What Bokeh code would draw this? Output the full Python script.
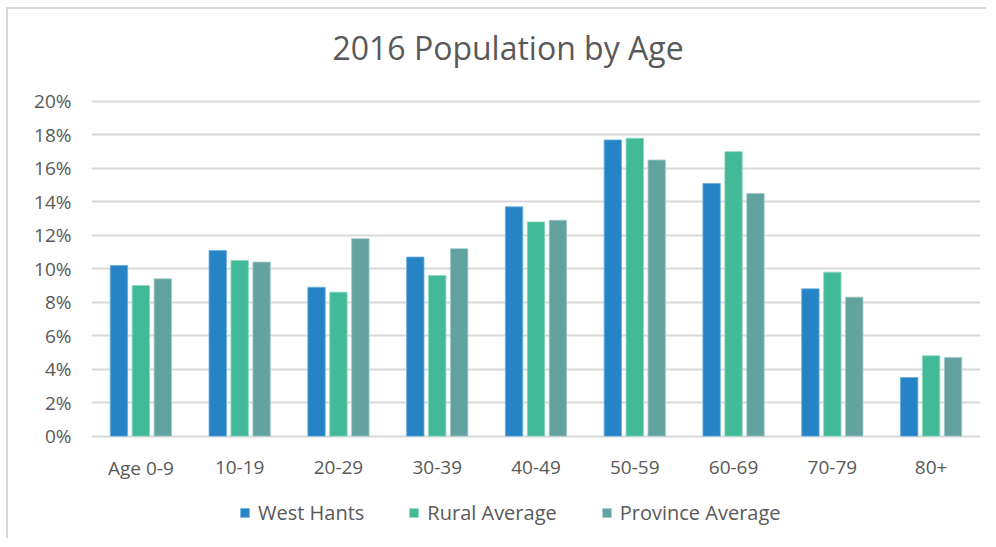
from bokeh.plotting import figure
from bokeh.models import ColumnDataSource, FactorRange, Range1d, FixedTicker, PrintfTickFormatter, Legend, LegendItem
from bokeh.transform import dodge
from bokeh.core.properties import value
from bokeh.embed import file_html
from bokeh.resources import INLINE

title_text = "2016 Population by Age"
categories = ["Age 0-9", "10-19", "20-29", "30-39", "40-49", "50-59", "60-69", "70-79", "80+"]
west_hants = [10.2, 11.1, 8.9, 10.7, 13.7, 17.7, 15.1, 8.8, 3.5]
rural_avg = [9.0, 10.5, 8.6, 9.6, 12.8, 17.8, 17.0, 9.8, 4.8]
province_avg = [9.4, 10.4, 11.8, 11.2, 12.9, 16.5, 14.5, 8.3, 4.7]
y_ticks = [0, 2, 4, 6, 8, 10, 12, 14, 16, 18, 20]

FONT = "Open Sans"
TXT = "#595959"
GRID = "#D9D9D9"

source = ColumnDataSource(dict(cat=categories, west=west_hants, rural=rural_avg, prov=province_avg))

p = figure(x_range=FactorRange(*categories), y_range=Range1d(-5.76, 24.30),
           width=980, height=531, output_backend="svg", toolbar_location=None,
           min_border_left=83, min_border_right=8, min_border_top=20, min_border_bottom=8)
p.styles = {"margin-left": "8px", "margin-top": "9px", "box-shadow": "-2px -2px 0 0 #D9D9D9"}

bw = 0.176
r1 = p.vbar(x=dodge("cat", -0.222, range=p.x_range), top="west", width=bw, source=source,
            fill_color="#2683C6", line_color="#6AAEDD", line_width=0.8)
r2 = p.vbar(x=dodge("cat", 0.0, range=p.x_range), top="rural", width=bw, source=source,
            fill_color="#42BA97", line_color="#8AD6BF", line_width=0.8)
r3 = p.vbar(x=dodge("cat", 0.222, range=p.x_range), top="prov", width=bw, source=source,
            fill_color="#62A39F", line_color="#9FC8C5", line_width=0.8)

# chart title, drawn inside the frame above the 20% line
p.text(x=[categories[4]], y=[23.2], text=[title_text], x_offset=-28,
       text_align="center", text_baseline="middle",
       text_font=value(FONT), text_font_size="32px", text_color=TXT)

# category labels drawn under the zero line (inside the frame)
p.text(x="cat", y=-1.89, text="cat", source=source, text_align="center", text_baseline="middle",
       text_font=value(FONT), text_font_size="19px", text_color=TXT)

p.x_range.range_padding = 0
p.x_range.group_padding = 0
p.xaxis.visible = False

p.yaxis.ticker = FixedTicker(ticks=y_ticks)
p.yaxis.formatter = PrintfTickFormatter(format="%d%%")
p.yaxis.axis_line_color = None
p.yaxis.major_tick_line_color = None
p.yaxis.minor_tick_line_color = None
p.yaxis.major_label_standoff = 14
p.yaxis.major_label_text_font = FONT
p.yaxis.major_label_text_font_size = "19px"
p.yaxis.major_label_text_color = TXT

p.xgrid.grid_line_color = None
p.ygrid.ticker = FixedTicker(ticks=y_ticks)
p.ygrid.grid_line_color = GRID
p.ygrid.grid_line_width = 2
p.outline_line_color = None

legend = Legend(items=[LegendItem(label="West Hants", renderers=[r1]),
                       LegendItem(label="Rural Average", renderers=[r2]),
                       LegendItem(label="Province Average", renderers=[r3])],
                orientation="horizontal", location=(148, 6),
                label_text_font=FONT, label_text_font_size="20px", label_text_color=TXT,
                glyph_width=11, glyph_height=11, label_standoff=8, spacing=44,
                border_line_color=None, background_fill_alpha=0, margin=0, padding=4)
p.add_layout(legend)

open("out.html", "w").write(file_html(p, INLINE))
